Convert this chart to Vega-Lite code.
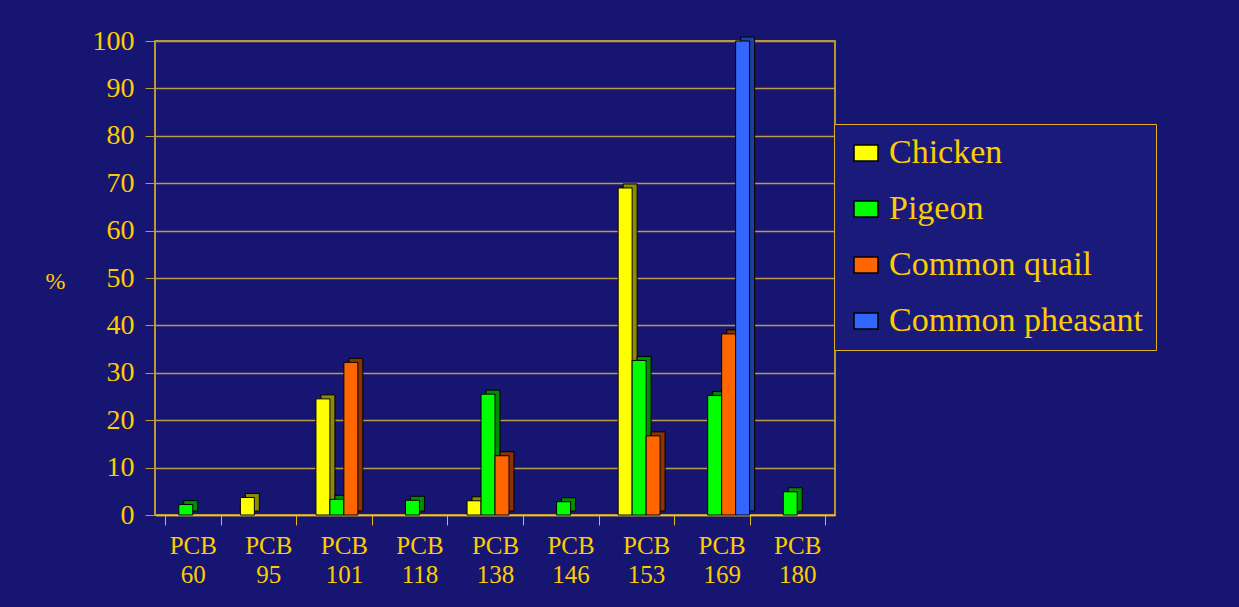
{
  "$schema": "https://vega.github.io/schema/vega-lite/v6.json",
  "width": 680,
  "height": 474,
  "autosize": {"type": "none"},
  "padding": {"left": 155, "top": 41, "right": 404, "bottom": 92},
  "background": "#161672",
  "data": {
    "values": [
      {"pcb": "PCB 60", "species": "Pigeon", "pct": 2.2},
      {"pcb": "PCB 95", "species": "Chicken", "pct": 3.7},
      {"pcb": "PCB 101", "species": "Chicken", "pct": 24.5},
      {"pcb": "PCB 101", "species": "Pigeon", "pct": 3.3},
      {"pcb": "PCB 101", "species": "Common quail", "pct": 32.2},
      {"pcb": "PCB 118", "species": "Pigeon", "pct": 3.1},
      {"pcb": "PCB 138", "species": "Chicken", "pct": 3.0},
      {"pcb": "PCB 138", "species": "Pigeon", "pct": 25.5},
      {"pcb": "PCB 138", "species": "Common quail", "pct": 12.5},
      {"pcb": "PCB 146", "species": "Pigeon", "pct": 2.8},
      {"pcb": "PCB 153", "species": "Chicken", "pct": 69},
      {"pcb": "PCB 153", "species": "Pigeon", "pct": 32.6},
      {"pcb": "PCB 153", "species": "Common quail", "pct": 16.7},
      {"pcb": "PCB 169", "species": "Pigeon", "pct": 25.2},
      {"pcb": "PCB 169", "species": "Common quail", "pct": 38.2},
      {"pcb": "PCB 169", "species": "Common pheasant", "pct": 100},
      {"pcb": "PCB 180", "species": "Pigeon", "pct": 4.9}
    ]
  },
  "encoding": {
    "x": {
      "field": "pcb",
      "type": "nominal",
      "sort": ["PCB 60", "PCB 95", "PCB 101", "PCB 118", "PCB 138", "PCB 146", "PCB 153", "PCB 169", "PCB 180"],
      "scale": {"paddingInner": 0.26, "paddingOuter": 0.13},
      "axis": {
        "title": null,
        "labelAngle": 0,
        "labelExpr": "isValid(datum.value) ? split(datum.value, ' ') : ''",
        "labelFont": "Liberation Serif",
        "labelFontSize": 25,
        "labelColor": "#FFCC00",
        "labelLineHeight": 29,
        "labelPadding": 8,
        "labelBaseline": "top",
        "tickBand": "extent",
        "tickColor": "#E8B818",
        "tickSize": 10,
        "domainColor": "#F0C020",
        "domainWidth": 1.5,
        "grid": false
      }
    },
    "y": {
      "field": "pct",
      "type": "quantitative",
      "scale": {"domain": [0, 100], "nice": false},
      "axis": {
        "title": "%",
        "titleAngle": 0,
        "titleX": -100,
        "titleY": 240,
        "titleAlign": "center",
        "titleBaseline": "middle",
        "titleFont": "Liberation Serif",
        "titleFontSize": 24,
        "titleFontWeight": "normal",
        "titleColor": "#FFCC00",
        "values": [0, 10, 20, 30, 40, 50, 60, 70, 80, 90, 100],
        "labelFont": "Liberation Serif",
        "labelFontSize": 28,
        "labelColor": "#FFCC00",
        "labelPadding": 11,
        "tickSize": 10,
        "tickColor": "#B89A48",
        "domainColor": "#B89A48",
        "gridColor": "#B89A48",
        "gridWidth": 1.5,
        "gridOpacity": 1
      }
    }
  },
  "layer": [
    {
      "mark": {"type": "bar", "stroke": "#000000", "strokeWidth": 1, "yOffset": -4},
      "encoding": {
        "xOffset": {
          "field": "species",
          "type": "nominal",
          "scale": {"domain": ["Chicken", "Pigeon", "Common quail", "Common pheasant"], "range": [5, 60.9], "paddingInner": 0, "paddingOuter": 0}
        },
        "color": {
          "field": "species",
          "type": "nominal",
          "scale": {
            "domain": ["Chicken", "Pigeon", "Common quail", "Common pheasant"],
            "range": ["#8C8C00", "#008C00", "#8C3300", "#1F3F9C"]
          },
          "legend": null
        }
      }
    },
    {
      "mark": {"type": "bar", "stroke": "#000000", "strokeWidth": 1},
      "encoding": {
        "xOffset": {
          "field": "species",
          "type": "nominal",
          "scale": {"domain": ["Chicken", "Pigeon", "Common quail", "Common pheasant"], "paddingInner": 0, "paddingOuter": 0}
        },
        "color": {
          "field": "species",
          "type": "nominal",
          "scale": {
            "domain": ["Chicken", "Pigeon", "Common quail", "Common pheasant"],
            "range": ["#FFFF00", "#00FF00", "#FF6600", "#3366FF"]
          },
          "legend": {
            "title": null,
            "orient": "none",
            "legendX": 679,
            "legendY": 83,
            "fillColor": "#1A1A7A",
            "strokeColor": "#E0B020",
            "padding": 12,
            "rowPadding": 22,
            "symbolType": "M-1,-0.67H1V0.67H-1Z",
            "symbolSize": 576,
            "symbolStrokeColor": "#000000",
            "symbolStrokeWidth": 1.5,
            "symbolOpacity": 1,
            "symbolOffset": 3,
            "labelOffset": 6,
            "labelFont": "Liberation Serif",
            "labelFontSize": 34,
            "labelColor": "#FFCC00",
            "labelLimit": 400
          }
        }
      }
    }
  ],
  "resolve": {"scale": {"color": "independent", "xOffset": "independent"}},
  "config": {
    "view": {"stroke": "#F0C020", "strokeWidth": 1.5}
  }
}
